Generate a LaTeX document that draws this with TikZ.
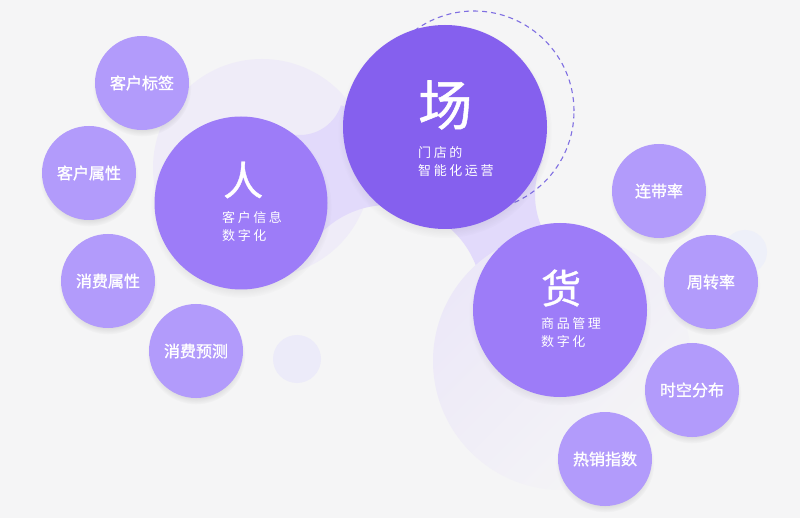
\documentclass[tikz,border=0pt]{standalone}
\usepackage{fontspec}
\newfontfamily\cjk[FakeBold=1.2]{Noto Sans CJK SC}
\newfontfamily\cjkbig[FakeBold=1]{Noto Sans CJK SC}
\newfontfamily\cjkwide[LetterSpace=20]{Noto Sans CJK SC}
\usetikzlibrary{positioning, shadows}

\definecolor{bgcol}{HTML}{F5F5F6}
\definecolor{palecol}{HTML}{EFECF8}
\definecolor{paleB}{HTML}{ECE8F8}
\definecolor{dotcol}{HTML}{ECEBF9}
\definecolor{dotcolb}{HTML}{EEF0F9}
\definecolor{bandcol}{HTML}{E2DAFB}
\definecolor{leafcol}{HTML}{B29BFB}
\definecolor{hubcol}{HTML}{9D7CF8}
\definecolor{topcol}{HTML}{8560EE}
\definecolor{dashcol}{HTML}{7F6FE2}

\tikzset{
	softshadow/.style={circular drop shadow={shadow xshift=0pt, shadow yshift=-4pt, shadow scale=1.05, fill=black, opacity=0.10}},
	leaf/.style={circle, fill=leafcol, minimum size=94pt, inner sep=0pt, text=white, font=\cjk\fontsize{16pt}{18pt}\selectfont, softshadow},
	hub/.style={circle, inner sep=0pt, softshadow},
	hubchar/.style={inner sep=0pt, anchor=west, text=white, font=\cjkbig\fontsize{40pt}{44pt}\selectfont},
	hubsub/.style={inner sep=0pt, anchor=north west, align=left, text=white, font=\cjkwide\fontsize{13pt}{18pt}\selectfont},
}

\begin{document}
\begin{tikzpicture}[x = 1pt, y = -1pt]

	% Canvas
	
	\fill [bgcol] (0, 0) rectangle (800, 518);
	\useasboundingbox (0, 0) rectangle (800, 518);
	
	% Pale discs in the back
	
	\fill [palecol] (262, 168) circle (109pt);
	\fill [dotcol] (297, 359) circle (24pt);
	\fill [dotcolb] (745, 252) circle (22pt);
	
	% Lavender band joining the hubs
	
	\begin{scope}
		\clip (241, 203) -- (262, 130) -- (300, 92) -- (355, 110) -- (445, 127) -- (600, 180)
			-- (600, 260) -- (560, 310) -- (440, 300) -- (300, 260) -- cycle;
		\fill [bandcol, even odd rule] (200, 50) rectangle (650, 350)
			(300, 92) circle (43pt) (388, 299) circle (94pt) (615, 195) circle (80pt);
	\end{scope}
	
	\shade [top color = paleB, bottom color = bgcol, shading angle = 45] (562, 361) circle (129pt);
	
	% Dashed ring behind the store hub
	
	\draw [dashcol, line width = 1.1pt, dash pattern = on 5pt off 4pt] (474, 111) circle (100pt);
	
	% Hubs
	
	\node [hub, fill = hubcol, minimum size = 173pt] (ren) at (241, 203) {};
	\node [hub, fill = topcol, minimum size = 204pt] (chang) at (445, 127) {};
	\node [hub, fill = hubcol, minimum size = 174pt] (huo) at (560, 310) {};
	
	\node [hubchar] (renchar) at (223, 180) {人};
	\node [hubsub] (rensub) at (222, 211) {客户信息\\数字化};
	
	\node [hubchar, font = \cjkbig\fontsize{54pt}{58pt}\selectfont] (changchar) at (418, 105) {场};
	\node [hubsub] (changsub) at (418, 146) {门店的\\智能化运营};
	
	\node [hubchar] (huochar) at (541, 288) {货};
	\node [hubsub] (huosub) at (541, 317) {商品管理\\数字化};
	
	% Leaves round the hubs
	
	\node [leaf] (biaoqian) at (142, 83) {客户标签};
	\node [leaf] (kehushuxing) at (89, 173) {客户属性};
	\node [leaf] (xiaofeishuxing) at (108, 281) {消费属性};
	\node [leaf] (yuce) at (196, 351) {消费预测};
	
	\node [leaf] (liandai) at (659, 191) {连带率};
	\node [leaf] (zhouzhuan) at (711, 282) {周转率};
	\node [leaf] (shikong) at (692, 390) {时空分布};
	\node [leaf] (rexiao) at (605, 459) {热销指数};

\end{tikzpicture}
\end{document}
